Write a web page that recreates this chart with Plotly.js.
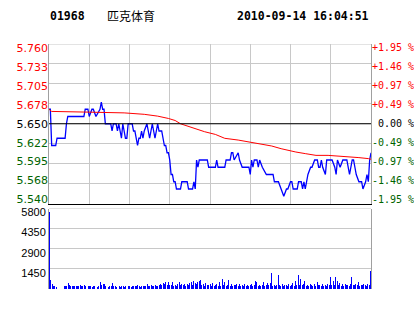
<!DOCTYPE html>
<html><head><meta charset="utf-8">
<script src="https://cdn.plot.ly/plotly-3.0.1.min.js"></script>
<style>html,body{margin:0;padding:0;background:#fff}#chart{width:414px;height:314px}</style>
</head><body><div id="chart"></div>
<script>
const stockCode = '01968';
const stockName = '匹克体育';
const stamp = '2010-09-14 16:04:51';
const prevClose = 5.650;

const priceTicks = [5.540, 5.5675, 5.595, 5.6225, 5.650, 5.6775, 5.705, 5.7325, 5.760];
const priceTickLabels = ['5.540','5.568','5.595','5.622','5.650','5.678','5.705','5.733','5.760'];
const pctTickLabels = ['-1.95 %','-1.46 %','-0.97 %','-0.49 %','\u00a00.00 %','+0.49 %','+0.97 %','+1.46 %','+1.95 %'];
const timeTicks = [0, 30, 60, 90, 120, 150, 180, 210, 240];
const timeTickLabels = ['10:00','','11:00','','12:00','','15:00','','16:00'];
const volTicks = [1450, 2900, 4350, 5800];
const volTickLabels = ['1450','2900','4350','5800'];

// trading minutes since 10:00 (morning 10:00-12:30, afternoon 14:30-16:00)
const priceMin = [0,1,2,5,6,12,13,14,26,27,
 29,30,32,33,35,38,39,40,41,42,
 46,47,48,50,51,52,53,54,55,56,
 57,58,59,62,63,64,65,66,67,68,
 69,70,71,73,74,75,76,77,78,79,
 80,81,82,84,85,86,87,88,89,90,
 91,92,93,94,95,98,99,103,104,107,
 108,109,110,111,112,118,119,124,125,126,
 131,132,135,136,137,138,141,142,144,149,
 150,151,152,153,155,156,157,159,162,167,
 168,171,173,175,177,178,180,181,182,185,
 186,188,189,190,191,193,195,196,198,200,
 201,202,203,204,206,207,211,213,214,215,
 217,219,222,223,224,226,227,228,229,231,
 233,234,236,237,238,239,240];
const priceVal = [5.67,5.67,5.62,5.62,5.63,5.63,5.65,5.66,5.66,5.67,
 5.67,5.66,5.67,5.67,5.66,5.67,5.68,5.67,5.67,5.65,
 5.65,5.64,5.65,5.65,5.64,5.65,5.64,5.63,5.65,5.64,
 5.63,5.63,5.65,5.65,5.64,5.64,5.63,5.62,5.63,5.63,
 5.64,5.63,5.64,5.65,5.64,5.63,5.64,5.65,5.64,5.63,
 5.64,5.65,5.64,5.64,5.63,5.62,5.62,5.61,5.61,5.60,
 5.58,5.58,5.57,5.57,5.56,5.56,5.57,5.57,5.56,5.56,
 5.57,5.56,5.60,5.59,5.60,5.60,5.59,5.59,5.60,5.59,
 5.59,5.60,5.60,5.61,5.61,5.60,5.61,5.60,5.59,5.59,
 5.58,5.60,5.59,5.60,5.60,5.59,5.60,5.59,5.58,5.58,
 5.57,5.57,5.56,5.55,5.56,5.56,5.57,5.57,5.56,5.56,
 5.57,5.57,5.56,5.57,5.56,5.58,5.59,5.59,5.60,5.60,
 5.59,5.59,5.60,5.59,5.58,5.60,5.60,5.59,5.58,5.60,
 5.59,5.60,5.60,5.59,5.58,5.60,5.60,5.59,5.58,5.57,
 5.57,5.56,5.57,5.58,5.57,5.60,5.61];

const avgMin = [0,2,30,56,71,81,89,94,98,103,110,116,124,131,141,151,158,166,173,180,184,191,199,208,216,223,231,238,240];
const avgVal = [5.670,5.667,5.666,5.665,5.663,5.6605,5.6573,5.6545,5.650,5.6467,5.6422,5.639,5.6353,5.6299,5.6275,5.6239,5.6216,5.6193,5.6156,5.6123,5.611,5.6088,5.6064,5.6064,5.6055,5.6041,5.6033,5.6019,5.601];

const volume = [
 5550,620,380,210,200,160,0,0,0,0,
 0,190,250,230,430,260,200,240,210,230,
 190,250,220,260,200,240,280,230,0,210,
 190,220,180,200,230,0,180,210,530,300,
 360,330,200,0,180,220,210,430,190,200,
 180,0,200,170,190,210,180,200,0,190,
 210,180,240,200,230,190,260,210,180,240,
 200,220,250,360,210,190,260,230,200,280,
 240,220,260,380,300,420,350,470,260,530,
 310,280,480,250,300,220,360,480,300,360,
 280,340,250,380,300,430,520,280,600,450,
 330,470,600,680,260,380,200,450,300,260,
 330,240,400,220,300,360,250,480,200,720,
 260,480,220,300,680,250,380,200,300,260,
 330,220,360,250,290,200,380,240,300,220,
 260,330,200,280,600,520,240,300,200,260,
 520,240,300,430,280,430,1130,250,320,200,
 260,1040,300,240,380,220,300,260,200,350,
 240,300,430,250,600,280,1040,300,720,260,
 330,600,250,300,240,360,280,250,330,240,
 480,260,300,220,360,250,300,240,330,260,
 900,300,600,260,900,600,300,430,250,330,
 240,360,280,300,250,330,850,260,300,360,
 280,480,250,300,260,330,280,240,360,300,1280];
const volMin = volume.map((v, i) => i);

const RED = '#ff0000', GREEN = '#006400', BLACK = '#000000';
const GRID = '#c8c8c8', BORDER = '#a0a0a0';
function colorOf(v) { return Math.abs(v - prevClose) < 1e-9 ? BLACK : (v > prevClose ? RED : GREEN); }
const leftText = priceTicks.map((v, i) => '<span style="color:' + colorOf(v) + '">' + priceTickLabels[i] + '</span>');
const rightText = priceTicks.map((v, i) => '<span style="color:' + colorOf(v) + '">' + pctTickLabels[i] + '</span>');
// labels sit slightly inside the panel (compressed towards the centre line), as in the reference
const labelSqueeze = 152 / 160;
const labelPos = priceTicks.map(v => prevClose + (v - prevClose) * labelSqueeze);

const traces = [
  {type:'scatter', mode:'lines', x: avgMin, y: avgVal, xaxis:'x2', yaxis:'y3',
   line:{color:RED, width:1}, hoverinfo:'skip'},
  {type:'scatter', mode:'lines', x: priceMin, y: priceVal, xaxis:'x2', yaxis:'y',
   line:{color:'#0000ff', width:1.3}, hoverinfo:'skip'},
  {type:'scatter', mode:'lines', x: [], y: [], xaxis:'x2', yaxis:'y4', hoverinfo:'skip'},
  {type:'bar', x: volMin, y: volume, xaxis:'x3', yaxis:'y2', offset:0, width:0.75,
   marker:{color:'#0000ff', line:{width:0}}, hoverinfo:'skip'}
];

const pdom = [(289 - 203.5) / 245, 1];
const vdom = [0, (289 - 208.5) / 245];

const layout = {
  width:414, height:314, margin:{l:49, r:43, t:44, b:25},
  paper_bgcolor:'#fff', plot_bgcolor:'#fff', showlegend:false, bargap:0,
  xaxis:{anchor:'y2', range:[0,240], tickmode:'array', tickvals:timeTicks, ticktext:timeTickLabels,
    showgrid:true, gridcolor:GRID, gridwidth:1, showline:true, linecolor:BLACK, linewidth:1,
    ticks:'', zeroline:false, fixedrange:true,
    tickfont:{family:'Liberation Sans, Arial, sans-serif', size:11, color:BLACK}},
  xaxis2:{anchor:'y', matches:'x', range:[0,240], tickmode:'array', tickvals:timeTicks, showticklabels:false,
    showgrid:true, gridcolor:GRID, gridwidth:1, showline:true, linecolor:BLACK, linewidth:1,
    ticks:'', zeroline:false, fixedrange:true},
  xaxis3:{anchor:'y2', overlaying:'x', range:[0,240.75], visible:false, fixedrange:true},
  yaxis:{domain:pdom, anchor:'x2', range:[5.54,5.76], tickmode:'array', tickvals:priceTicks, showticklabels:false,
    showgrid:true, gridcolor:GRID, gridwidth:1, showline:true, mirror:true, linecolor:BORDER, linewidth:1,
    ticks:'', zeroline:false, fixedrange:true},
  yaxis3:{overlaying:'y', anchor:'x2', side:'left', range:[5.54,5.76], tickmode:'array', tickvals:labelPos, ticktext:leftText,
    showgrid:false, showline:false, ticks:'', zeroline:false, fixedrange:true,
    tickfont:{family:'DejaVu Sans, Verdana, sans-serif', size:11, color:BLACK}},
  yaxis4:{overlaying:'y', anchor:'x2', side:'right', range:[5.54,5.76], tickmode:'array', tickvals:labelPos, ticktext:rightText,
    showgrid:false, showline:false, ticks:'', zeroline:false, fixedrange:true,
    tickfont:{family:'DejaVu Sans Mono, monospace', size:10, color:BLACK}},
  yaxis2:{domain:vdom, anchor:'x', range:[0,5800], tickmode:'array', tickvals:volTicks, ticktext:volTickLabels,
    showgrid:true, gridcolor:GRID, gridwidth:1, showline:true, mirror:true, linecolor:BORDER, linewidth:1,
    ticks:'', zeroline:false, fixedrange:true, ticklabelshift:4,
    tickfont:{family:'Liberation Sans, Arial, sans-serif', size:11, color:BLACK}},
  shapes:[
    {type:'line', xref:'paper', x0:0, x1:1, yref:'y', y0:prevClose, y1:prevClose, line:{color:BLACK, width:1}},
    {type:'line', xref:'paper', x0:0, x1:1, yref:'y', y0:5.76, y1:5.76, line:{color:GRID, width:1}},
    {type:'line', xref:'paper', x0:0, x1:1, yref:'y2', y0:5800, y1:5800, line:{color:GRID, width:1}}
  ],
  annotations:[
    {text:stockCode, xref:'paper', yref:'paper', x:(67-49)/322, y:(289-16.5)/245, xanchor:'center', yanchor:'middle',
     showarrow:false, font:{family:'DejaVu Sans Mono, monospace', size:11.5, color:BLACK, weight:'bold'}},
    {text:stockName, xref:'paper', yref:'paper', x:(131-49)/322, y:(289-16)/245, xanchor:'center', yanchor:'middle',
     showarrow:false, font:{family:'Noto Sans CJK SC, sans-serif', size:12, color:BLACK}},
    {text:stamp, xref:'paper', yref:'paper', x:(303-49)/322, y:(289-16.5)/245, xanchor:'center', yanchor:'middle',
     showarrow:false, font:{family:'DejaVu Sans Mono, monospace', size:11.5, color:BLACK, weight:'bold'}}
  ]
};

Plotly.newPlot('chart', traces, layout, {staticPlot:true, displayModeBar:false});
</script>
</body></html>
